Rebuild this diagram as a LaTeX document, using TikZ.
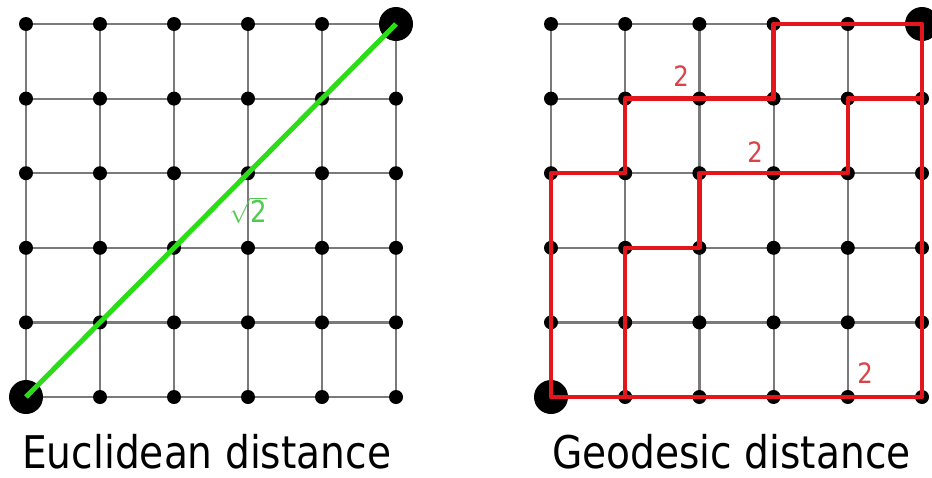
\documentclass[tikz,border=0pt]{standalone}
\usepackage{fontspec}
\newfontfamily\lab[FakeStretch=0.87]{DejaVu Sans}
\definecolor{gridgray}{HTML}{7A7A7A}
\definecolor{pathred}{HTML}{E3161B}
\definecolor{labred}{HTML}{D9434A}
\definecolor{linegreen}{HTML}{2BDD16}
\definecolor{labgreen}{HTML}{4FCB4F}
\begin{document}
\begin{tikzpicture}[x=1pt,y=-1pt,
  gridline/.style={draw=gridgray, line width=2.2pt},
  dot/.style={circle, fill=black, inner sep=0pt, minimum size=14pt},
  bigdot/.style={circle, fill=black, inner sep=0pt, minimum size=34pt},
  redpath/.style={draw=pathred, line width=4.5pt, line cap=round, line join=round},
  greenpath/.style={draw=linegreen, line width=5pt},
  redlab/.style={text=labred, font=\lab\fontsize{28}{28}\selectfont, inner sep=0pt},
  greenlab/.style={text=labgreen, inner sep=0pt},
  caption/.style={font=\lab\fontsize{45}{45}\selectfont, inner sep=0pt, anchor=base west}
]
\fill[white] (0,0) rectangle (932,477);
\useasboundingbox (0,0) rectangle (932,477);
% grid coordinates
\foreach \i in {0,...,5}{
  \foreach \j in {0,...,5}{
    \coordinate (L-\i-\j) at ({26+74*\i},{397-74.6*\j});
    \coordinate (R-\i-\j) at ({551+74.2*\i},{397-74.6*\j});
  }
}
% grid lines
\foreach \k in {0,...,5}{
  \draw[gridline] (L-0-\k) -- (L-5-\k);
  \draw[gridline] (L-\k-0) -- (L-\k-5);
  \draw[gridline] (R-0-\k) -- (R-5-\k);
  \draw[gridline] (R-\k-0) -- (R-\k-5);
}
% small dots
\foreach \i in {0,...,5}{
  \foreach \j in {0,...,5}{
    \node[dot] (Ld-\i-\j) at (L-\i-\j) {};
    \node[dot] (Rd-\i-\j) at (R-\i-\j) {};
  }
}
% big dots
\node[bigdot] (Lstart) at (L-0-0) {};
\node[bigdot] (Lend) at (L-5-5) {};
\node[bigdot] (Rstart) at (R-0-0) {};
\node[bigdot] (Rend) at (R-5-5) {};
% euclidean line
\draw[greenpath] (Lstart.center) -- (Lend.center);
\node[greenlab] (sq) at (248,210) {\color{labgreen}\fontsize{30}{30}\selectfont$\sqrt{\hbox{\lab\fontsize{30}{30}\selectfont\color{labgreen}2}}$};
% geodesic paths
\draw[redpath] (R-3-5) -- (R-5-5) -- (R-5-0) -- (R-0-0) -- (R-0-3) -- (R-1-3)
  -- (R-1-4) -- (R-3-4) -- cycle;
\draw[redpath] (R-1-0) -- (R-1-2) -- (R-2-2) -- (R-2-3) -- (R-4-3) -- (R-4-4) -- (R-5-4);
\node[redlab] (t1) at (681,76) {2};
\node[redlab] (t2) at (755,152) {2};
\node[redlab] (t3) at (865,373) {2};
% captions
\node[caption] (c1) at (22,468) {Euclidean distance};
\node[caption] (c2) at (552,468) {Geodesic distance};
\end{tikzpicture}
\end{document}
